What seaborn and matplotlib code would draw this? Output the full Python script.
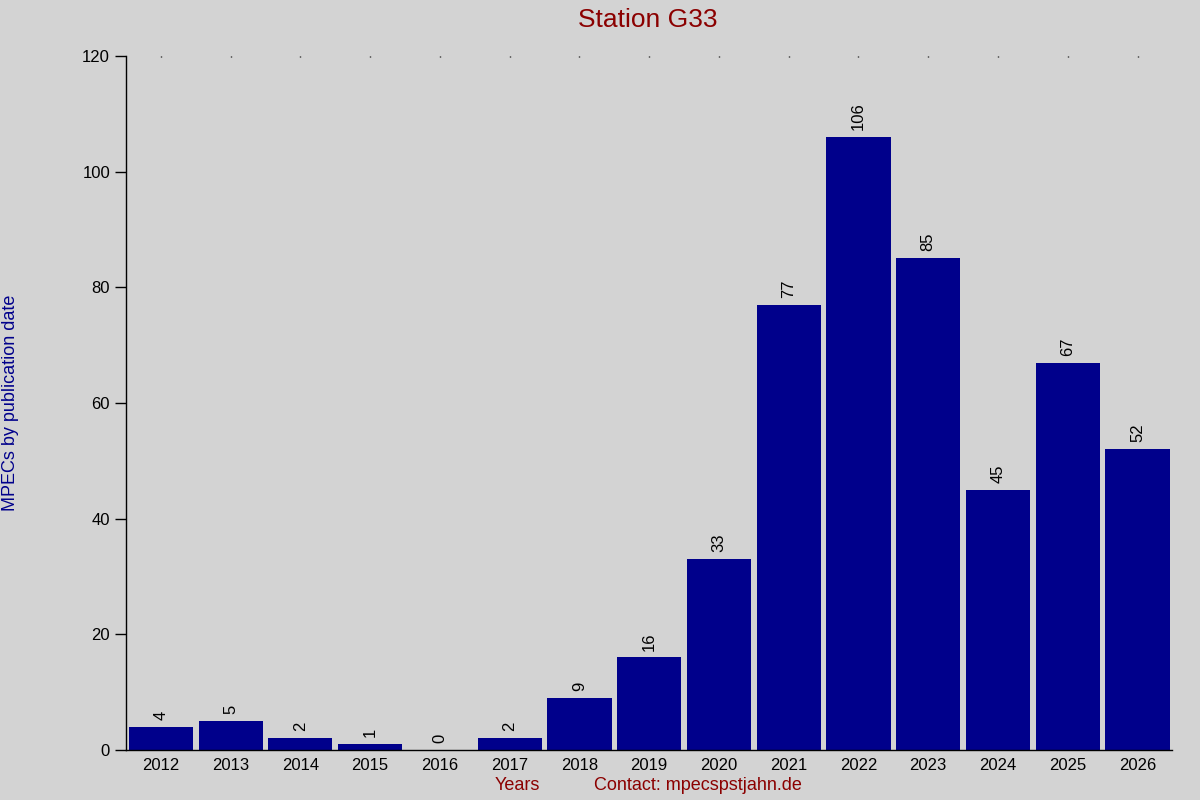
import numpy as np
import pandas as pd
import matplotlib
matplotlib.use("Agg")
import matplotlib.pyplot as plt
import seaborn as sns

years = [str(y) for y in range(2012, 2027)]
mpecs = [4, 5, 2, 1, 0, 2, 9, 16, 33, 77, 106, 85, 45, 67, 52]

df = pd.DataFrame({"year": years, "count": mpecs})

sns.set_theme(style="ticks")
plt.rcParams['font.family'] = ['Liberation Sans', 'DejaVu Sans']

fig = plt.figure(figsize=(12, 8), dpi=100, facecolor="#d3d3d3")
ax = fig.add_axes([0.105, 0.0625, 0.872, 0.8675])
ax.set_facecolor("#d3d3d3")

sns.barplot(data=df, x="year", y="count", color="#00008b", width=0.92,
            saturation=1, linewidth=0, ax=ax)

for p, v in zip(ax.patches, mpecs):
    ax.annotate(str(v), (p.get_x() + p.get_width() / 2, p.get_height()),
                xytext=(0, 5), textcoords="offset points", rotation=90,
                ha="center", va="bottom", fontsize=12, color="black")

ax.set_xlim(-0.5, len(years) - 0.5)
ax.set_ylim(0, 120)
ax.set_yticks(range(0, 121, 20))

for s in ["top", "right"]:
    ax.spines[s].set_visible(False)
for s in ["left", "bottom"]:
    ax.spines[s].set_color("black")
    ax.spines[s].set_linewidth(1)

ax.tick_params(axis="y", length=8, width=1, colors="black", labelsize=12)
ax.tick_params(axis="x", bottom=False, top=True, length=1, width=1,
               direction="in", colors="black", labelsize=12, pad=6)

ax.set_xlabel("")
ax.set_ylabel("")
fig.text(0.54, 0.99, "Station G33", ha="center", va="top",
         fontsize=19, color="#8b0000")
fig.text(0.431, 0.007, "Years", ha="center", va="bottom",
         fontsize=13, color="#8b0000")
fig.text(0.582, 0.007, "Contact: mpecspstjahn.de", ha="center", va="bottom",
         fontsize=13, color="#8b0000")
fig.text(0.009, 0.496, "MPECs by publication date", ha="center", va="center",
         rotation=90, fontsize=13, color="#00008b")

fig.savefig("out.png", dpi=100, facecolor=fig.get_facecolor())
